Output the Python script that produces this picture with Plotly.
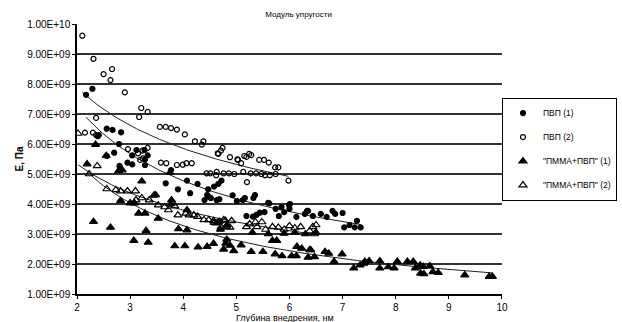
import numpy as np
import plotly.graph_objects as go

# ПВП (1) – filled circles
pvp1_x = [2.17, 2.29, 2.39, 2.56, 2.67, 2.83, 2.79, 3.12, 3.04, 3.33, 2.56, 2.70, 2.80, 2.95, 3.28,
          3.04, 3.77, 3.67, 3.90, 4.13, 4.07, 4.27, 4.47, 4.58, 4.66, 4.72, 4.40, 4.45, 4.52, 4.63,
          5.12, 5.32, 5.35, 5.60, 6.01, 5.31, 5.38, 5.44, 5.53, 5.74, 5.85, 6.00, 6.33, 6.13, 6.29,
          6.35, 6.44, 6.59, 6.70, 6.81, 6.86, 7.00, 7.03, 7.13, 7.23, 7.27, 7.34, 5.19, 5.90, 5.80,
          4.48, 4.68, 5.01, 5.16, 5.62, 5.99, 2.41, 3.27, 3.28, 4.93]
pvp1_y = [7.64, 7.84, 6.26, 6.51, 6.47, 6.39, 6.00, 5.80, 5.62, 5.62, 5.60, 5.71, 5.27, 5.38, 5.30,
          5.32, 5.13, 4.69, 4.49, 4.36, 4.78, 4.67, 4.49, 4.58, 4.67, 4.78, 4.13, 4.30, 4.20, 4.13,
          4.13, 4.20, 4.30, 4.04, 4.00, 3.58, 3.64, 3.71, 3.73, 3.84, 3.90, 3.84, 3.77, 3.57, 3.67,
          3.77, 3.60, 3.67, 3.57, 3.77, 3.67, 3.70, 3.22, 3.30, 3.22, 3.44, 3.22, 3.60, 3.73, 3.60,
          4.24, 4.16, 4.10, 4.20, 4.02, 3.97, 6.30, 5.80, 5.49, 4.29]

# ПВП (2) – open circles
pvp2_x = [2.10, 2.31, 2.50, 2.66, 2.63, 2.90, 2.36, 3.21, 3.33, 3.17, 3.56, 3.67, 3.77, 3.88, 4.03,
          4.22, 4.38, 4.35, 4.65, 4.74, 4.71, 5.02, 5.19, 5.28, 5.43, 2.15, 2.30, 2.36, 2.96, 3.23,
          3.33, 3.24, 3.58, 3.68, 3.88, 3.99, 4.06, 4.16, 4.44, 4.51, 4.62, 4.63, 4.76, 4.86, 4.96,
          5.13, 5.20, 5.27, 5.37, 5.47, 5.54, 5.63, 5.74, 5.98, 4.88, 5.03, 5.09, 5.15, 5.24, 5.52,
          5.61, 5.73, 5.79, 4.66, 3.15, 3.19]
pvp2_y = [9.61, 8.84, 8.33, 8.50, 8.13, 7.72, 6.87, 7.20, 7.07, 6.90, 6.57, 6.57, 6.53, 6.48, 6.32,
          6.09, 6.09, 5.98, 5.69, 5.87, 5.78, 5.49, 5.57, 5.63, 5.47, 6.38, 6.38, 6.30, 5.83, 5.78,
          5.87, 5.52, 5.38, 5.36, 5.30, 5.31, 5.36, 5.36, 5.02, 5.02, 4.96, 5.07, 5.02, 5.02, 5.00,
          5.07, 4.73, 5.02, 5.02, 5.00, 4.96, 4.96, 5.00, 4.78, 5.56, 5.47, 5.36, 5.60, 5.67, 5.47,
          5.38, 5.22, 5.22, 5.67, 5.69, 5.47]

# "ПММА+ПВП" (1) – filled triangles
pm1_x = [2.19, 2.35, 2.55, 2.78, 2.85, 2.31, 2.63, 3.07, 3.34, 3.30, 3.84, 4.03, 4.28, 4.45, 4.57,
         4.80, 4.88, 4.95, 4.76, 5.28, 5.50, 5.73, 5.86, 6.04, 6.13, 6.35, 6.38, 3.16, 3.28, 3.53,
         3.91, 4.07, 4.07, 3.22, 3.00, 3.08, 3.77, 3.78, 3.48, 2.82, 4.62, 4.68, 4.82, 4.82, 5.09,
         5.68, 5.76, 6.14, 6.23, 6.40, 6.47, 6.67, 6.74, 6.84, 6.99, 7.21, 7.33, 7.40, 7.42, 7.50,
         7.70, 7.70, 7.86, 7.97, 8.03, 8.22, 8.33, 8.37, 8.47, 8.46, 8.52, 8.53, 8.64, 8.70, 8.80,
         9.30, 9.76, 9.82, 5.30, 5.60, 5.90, 6.10, 6.30, 6.50, 4.70, 3.75]
pm1_y = [5.33, 5.98, 5.61, 5.10, 5.13, 3.41, 3.22, 2.78, 2.72, 3.11, 2.60, 2.60, 2.56, 2.58, 2.68,
         2.69, 2.62, 2.44, 2.49, 2.41, 2.41, 2.33, 2.27, 2.27, 2.27, 2.22, 2.47, 3.69, 3.69, 3.52,
         3.17, 3.13, 3.80, 4.76, 4.03, 4.03, 4.00, 4.13, 4.30, 4.11, 3.36, 3.42, 3.29, 2.82, 2.63,
         2.78, 2.78, 2.58, 2.52, 2.47, 2.24, 2.41, 2.35, 2.08, 2.33, 1.86, 1.96, 2.02, 2.08, 2.10,
         2.10, 1.86, 1.90, 1.86, 2.08, 2.08, 2.08, 1.86, 1.69, 1.96, 1.91, 1.67, 1.93, 1.74, 1.71,
         1.63, 1.58, 1.58, 3.05, 3.00, 3.02, 3.05, 3.00, 3.05, 3.15, 5.05]

# "ПММА+ПВП" (2) – open triangles
pm2_x = [2.02, 2.38, 2.23, 2.56, 2.73, 2.82, 2.95, 3.10, 3.11, 3.22, 3.36, 3.45, 3.53, 3.65, 3.72,
         3.84, 3.90, 4.05, 4.11, 4.20, 4.27, 4.39, 4.48, 4.57, 4.66, 4.76, 4.91, 4.71, 4.88, 4.58,
         4.79, 4.82, 5.19, 5.25, 5.36, 5.48, 5.39, 5.68, 5.79, 6.00, 6.21, 6.38, 6.44, 6.50, 6.47,
         5.55, 5.90, 6.10]
pm2_y = [6.35, 5.27, 5.00, 4.50, 4.47, 4.43, 4.43, 4.43, 4.13, 4.20, 4.13, 4.29, 3.96, 3.90, 3.80,
         3.93, 3.63, 3.69, 3.63, 3.63, 3.58, 3.47, 3.47, 3.44, 3.38, 3.47, 3.44, 3.22, 3.22, 3.38,
         3.45, 3.24, 3.24, 3.33, 3.40, 3.40, 3.24, 3.24, 3.22, 3.27, 3.24, 3.10, 3.24, 3.30, 3.00,
         3.15, 3.15, 3.20]

names = ["ПВП (1)", "ПВП (2)", "\"ПММА+ПВП\" (1)", "\"ПММА+ПВП\" (2)"]
symbols = ["circle", "circle-open", "triangle-up", "triangle-up-open"]
sizes = [5, 5, 7, 7]

y_tick_vals = [1, 2, 3, 4, 5, 6, 7, 8, 9, 10]
y_tick_text = ["1.00E+09", "2.00E+09", "3.00E+09", "4.00E+09", "5.00E+09",
               "6.00E+09", "7.00E+09", "8.00E+09", "9.00E+09", "1.00E+10"]
x_tick_vals = [2, 3, 4, 5, 6, 7, 8, 9, 10]

series = [(pvp1_x, pvp1_y), (pvp2_x, pvp2_y), (pm1_x, pm1_y), (pm2_x, pm2_y)]

fig = go.Figure()
# power trendlines (least-squares fits, as Excel does)
for (xs, ys) in series:
    xa = np.array(xs); ya = np.array(ys)
    b, lna = np.polyfit(np.log(xa), np.log(ya), 1)
    xt = np.linspace(xa.min(), xa.max(), 100)
    fig.add_trace(go.Scatter(x=xt, y=np.exp(lna) * xt ** b, mode="lines",
                             line=dict(color="#222", width=1), showlegend=False,
                             hoverinfo="skip"))

for (xs, ys), nm, sym, sz in zip(series, names, symbols, sizes):
    fig.add_trace(go.Scatter(x=xs, y=ys, mode="markers", name=nm, legendgroup=nm,
                             marker=dict(symbol=sym, size=sz, color="black",
                                         line=dict(color="black", width=1.2))))

fig.update_layout(
    width=622, height=322,
    margin=dict(l=77, r=111, t=24, b=28),
    paper_bgcolor="white", plot_bgcolor="white",
    font=dict(family="Liberation Sans, Arial, sans-serif", color="black", size=9),
    title=dict(text="Модуль упругости", x=0.48, xanchor="center", y=0.965, yanchor="top",
               font=dict(size=8)),
    legend=dict(xref="container", yref="container", x=0.807, xanchor="left",
                y=0.697, yanchor="top",
                bordercolor="black", borderwidth=1, bgcolor="white",
                font=dict(size=8.5), traceorder="grouped", tracegroupgap=5, itemwidth=30,
                itemsizing="trace"),
    showlegend=True,
    annotations=[dict(text="Глубина внедрения, нм", xref="paper", yref="paper",
                      x=0.49, y=-0.088, xanchor="center", yanchor="middle",
                      showarrow=False, font=dict(size=9))],
)
fig.update_xaxes(range=[2, 10], tickvals=x_tick_vals, showgrid=False, automargin=False,
                 showline=True, linecolor="black", linewidth=1.5,
                 ticks="outside", ticklen=3, tickcolor="black",
                 tickfont=dict(size=10, family="Liberation Sans, Arial, sans-serif"))
fig.update_yaxes(range=[1, 10], tickvals=y_tick_vals, ticktext=y_tick_text, automargin=False,
                 showgrid=True, gridcolor="#333", gridwidth=1.5,
                 showline=True, linecolor="black", linewidth=1.5,
                 ticks="outside", ticklen=3, tickcolor="black",
                 tickfont=dict(size=10, family="Liberation Sans, Arial, sans-serif"),
                 title=dict(text="<b>E, Па</b>", font=dict(size=10), standoff=2))

fig.write_html("out.html", config={"displayModeBar": False},
               post_script="document.body.style.margin='0';document.body.style.overflow='hidden';")
